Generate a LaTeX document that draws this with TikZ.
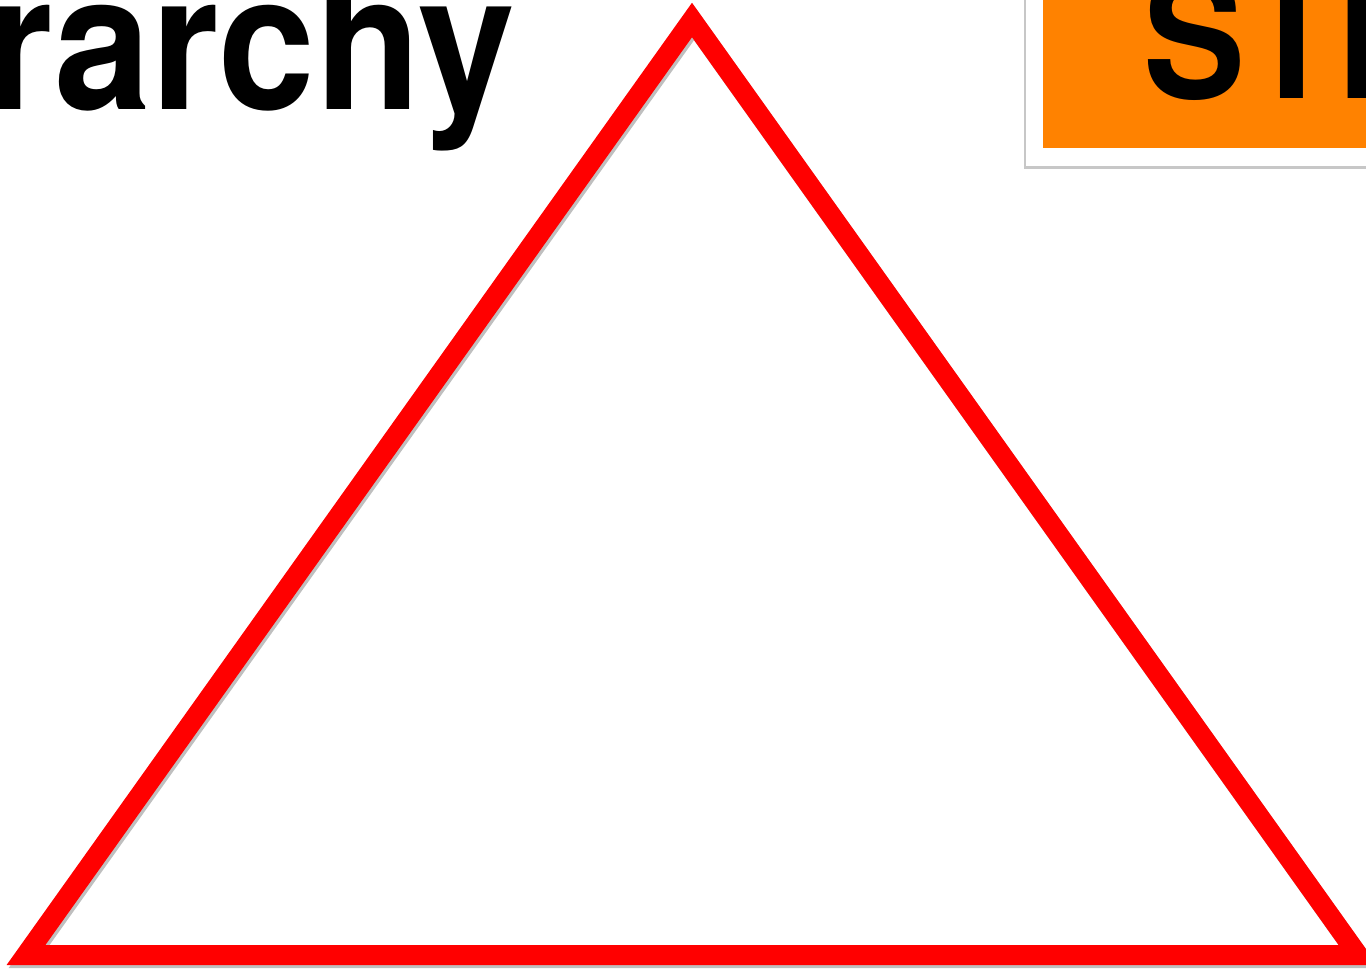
\documentclass[tikz,border=0pt]{standalone}
\usepackage{fontspec}
\setmainfont{TeX Gyre Heros}
\usepackage{tikz}
\definecolor{warnred}{RGB}{255,0,0}
\definecolor{bannerorange}{RGB}{255,130,0}

\begin{document}
\begin{tikzpicture}[
    x=1pt,y=-1pt,
    hierarchyline/.style={draw=warnred,line width=20pt,line join=miter},
    shadowline/.style={draw=black!25,line width=20pt,line join=miter},
    bannerfill/.style={fill=bannerorange},
    titletext/.style={inner sep=0pt,font=\bfseries\fontsize{190}{190}\selectfont},
    bannertext/.style={inner sep=0pt,font=\bfseries\fontsize{170}{170}\selectfont}
]
\useasboundingbox (0,0) rectangle (1366,970);
\clip (0,0) rectangle (1366,970);

% Corners of the pyramid outline.
\coordinate (apex) at (692,20);
\coordinate (baseL) at (26,955);
\coordinate (baseR) at (1358,955);

% Soft shadow first, then the red outline on top.
\draw[shadowline] ([shift={(2,3)}]apex) -- ([shift={(2,3)}]baseR)
    -- ([shift={(2,3)}]baseL) -- cycle;
\draw[hierarchyline] (apex) -- (baseR) -- (baseL) -- cycle;

% Title word, cut off at the left edge.
\node[titletext,anchor=base east] (title) at (515,109)
    {\scalebox{0.915}[1]{rarchy}};

% Orange banner in the top right corner.
\fill[black!22] (1024,-20) rectangle (1380,169);
\fill[white] (1026,-20) rectangle (1380,166);
\fill[bannerfill] (1043,-20) rectangle (1380,148);
\node[bannertext,anchor=base west] (banner) at (1143,98)
    {\scalebox{0.9}[1]{STI}};
\end{tikzpicture}
\end{document}
